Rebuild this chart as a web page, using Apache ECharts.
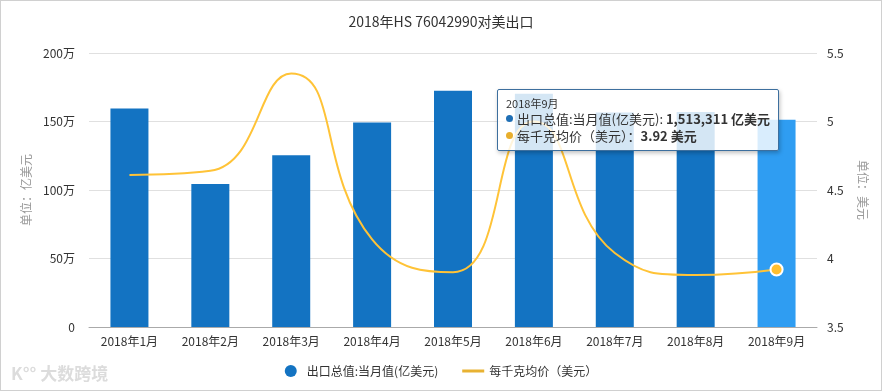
<!DOCTYPE html>
<html><head><meta charset="utf-8">
<script src="https://cdn.jsdelivr.net/npm/echarts@6/dist/echarts.min.js"></script>
<style>
html,body{margin:0;padding:0;background:#fff;}
#c{width:882px;height:391px;box-sizing:border-box;border:1px solid #d0d0d0;}
</style></head>
<body><div id="c"></div>
<script>
var categories = ['2018年1月','2018年2月','2018年3月','2018年4月','2018年5月','2018年6月','2018年7月','2018年8月','2018年9月'];
var exportValues = [1594000, 1043000, 1254000, 1493000, 1725000, 1703000, 1565000, 1570000, 1513311];
var unitPrices = [4.61, 4.64, 5.35, 4.14, 3.90, 5.00, 4.04, 3.88, 3.92];
var leftTicks = {min: 0, max: 2000000, interval: 500000};
var rightTicks = {min: 3.5, max: 5.5, interval: 0.5};
var seriesNames = ['出口总值:当月值(亿美元)', '每千克均价（美元）'];
var highlightIndex = 8;

var FONT = '"Noto Sans CJK SC","Noto Sans",sans-serif';
var chart = echarts.init(document.getElementById('c'));

var barData = exportValues.map(function(v, i){
  return i === highlightIndex ? {value: v, itemStyle: {color: '#2b8fdc'}} : v;
});
var lineData = unitPrices.map(function(v, i){
  return i === highlightIndex ? {value: v, symbol: 'circle', symbolSize: 11,
    itemStyle: {color: '#e8ae2c', borderColor: '#fff', borderWidth: 2}} : v;
});

function fmtNum(v){ return String(v).replace(/\B(?=(\d{3})+(?!\d))/g, ','); }

chart.setOption({
  animation: false,
  textStyle: {fontFamily: FONT},
  title: {text: '2018年HS 76042990对美出口', left: 'center', top: 9,
    textStyle: {fontSize: 14, fontWeight: 'normal', color: '#333', fontFamily: FONT}},
  grid: {left: 88, right: 64, top: 52, bottom: 63},
  legend: {bottom: 8, left: 'center', itemGap: 24, itemWidth: 22, itemHeight: 12,
    textStyle: {fontSize: 12, color: '#333', fontFamily: FONT},
    data: [{name: seriesNames[0], icon: 'circle'},
           {name: seriesNames[1], icon: 'path://M0,0 L22,0 L22,3 L0,3 Z', itemStyle: {color: '#e8b232'}}]},
  tooltip: {
    trigger: 'axis', alwaysShowContent: true,
    axisPointer: {type: 'none'},
    position: function(){ return [496, 88]; },
    backgroundColor: 'rgba(255,255,255,0.82)',
    borderColor: '#3d6f9e', borderWidth: 1, padding: [6, 8],
    extraCssText: 'box-shadow:1px 2px 4px rgba(0,0,0,0.25);border-radius:2px;',
    formatter: function(params){
      var s = '<div style="font-size:11px;color:#333;line-height:14px">' + params[0].axisValue + '</div>';
      var units = [' 亿美元', ' 美元'];
      var cols = ['#1f6fb5', '#e8ae2c'];
      var seps = [': ', '：'];
      params.forEach(function(p){
        var v = p.seriesIndex === 0 ? fmtNum(p.value) : p.value.toFixed(2);
        s += '<div style="font-size:13px;color:#333;line-height:17px;white-space:nowrap">' +
          '<span style="display:inline-block;width:7px;height:7px;border-radius:4px;margin-right:4px;vertical-align:2px;background:' + cols[p.seriesIndex] + '"></span>' +
          p.seriesName + seps[p.seriesIndex] + '<b>' + v + units[p.seriesIndex] + '</b></div>';
      });
      return s;
    }
  },
  xAxis: {type: 'category', data: categories,
    axisLine: {lineStyle: {color: '#aaa'}},
    axisTick: {alignWithLabel: true, lineStyle: {color: '#aaa'}},
    axisLabel: {color: '#333', fontSize: 12, margin: 8}},
  yAxis: [
    {type: 'value', min: leftTicks.min, max: leftTicks.max, interval: leftTicks.interval,
      name: '单位：亿美元', nameLocation: 'middle', nameGap: 56, nameRotate: 90,
      nameTextStyle: {color: '#999', fontSize: 12},
      axisLine: {show: false}, axisTick: {show: false},
      axisLabel: {color: '#333', fontSize: 12, margin: 14,
        formatter: function(v){ return v === 0 ? '0' : (v / 10000) + '万'; }},
      splitLine: {lineStyle: {color: '#e0e0e0'}}},
    {type: 'value', min: rightTicks.min, max: rightTicks.max, interval: rightTicks.interval,
      name: '单位：美元', nameLocation: 'middle', nameGap: 40, nameRotate: -90,
      nameTextStyle: {color: '#999', fontSize: 12},
      axisLine: {show: false}, axisTick: {show: false},
      axisLabel: {color: '#333', fontSize: 12, margin: 10},
      splitLine: {show: false}}
  ],
  graphic: [{type: 'text', left: 10, bottom: 8,
    style: {text: 'K°° 大数跨境', fill: '#dcdcdc', font: 'bold 17px ' + FONT}}],
  series: [
    {name: seriesNames[0], type: 'bar', data: barData, barWidth: 38,
      itemStyle: {color: '#1373c2'}},
    {name: seriesNames[1], type: 'line', yAxisIndex: 1, data: lineData, smooth: true,
      symbol: 'none', showSymbol: true,
      lineStyle: {color: '#e8b232', width: 2}, itemStyle: {color: '#e8b232'}}
  ]
});
chart.dispatchAction({type: 'showTip', seriesIndex: 0, dataIndex: highlightIndex});
</script></body></html>
